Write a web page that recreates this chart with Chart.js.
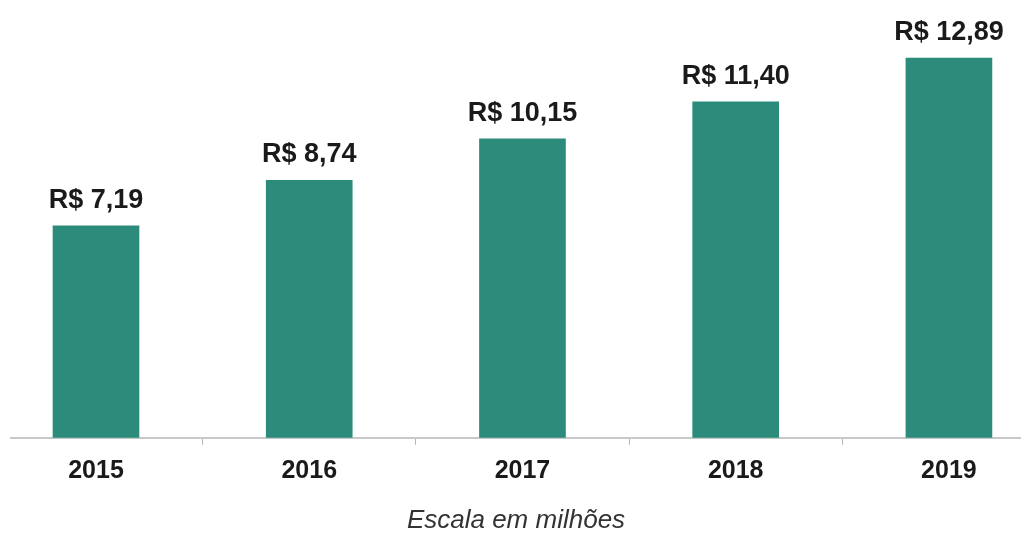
<!DOCTYPE html>
<html>
<head>
<meta charset="utf-8">
<script src="https://cdn.jsdelivr.net/npm/chart.js@4/dist/chart.umd.min.js"></script>
<style>
  html, body { margin: 0; padding: 0; background: #fff; }
  #wrap { position: relative; width: 1021px; height: 536px; }
</style>
</head>
<body>
<div id="wrap"><canvas id="grafico"></canvas></div>
<script>
// Dados
const anos = ['2015', '2016', '2017', '2018', '2019'];
const valores = [7.19, 8.74, 10.15, 11.40, 12.89];
const tituloEixo = 'Escala em milhões';

const corBarra = '#2d8b7b';

function formatReal(v) {
  return 'R$ ' + v.toFixed(2).replace('.', ',');
}

// Rótulos acima das barras
const rotulosPlugin = {
  id: 'rotulos',
  afterDatasetsDraw(chart) {
    const ctx = chart.ctx;
    const meta = chart.getDatasetMeta(0);
    ctx.save();
    ctx.font = "bold 27px 'Liberation Sans', Arial, sans-serif";
    ctx.fillStyle = '#1a1a1a';
    ctx.textAlign = 'center';
    ctx.textBaseline = 'alphabetic';
    meta.data.forEach((bar, i) => {
      ctx.fillText(formatReal(valores[i]), bar.x, bar.y - 18);
    });
    ctx.restore();
  },
};

const ctx = document.getElementById('grafico').getContext('2d');
new Chart(ctx, {
  type: 'bar',
  data: {
    datasets: [{
      data: anos.map((a, i) => ({ x: i, y: valores[i] })),
      backgroundColor: corBarra,
      borderWidth: 0,
      barThickness: 86,
    }],
  },
  options: {
    responsive: true,
    maintainAspectRatio: false,
    animation: false,
    layout: {
      padding: { top: 20, left: 11, right: 0, bottom: 0 },
    },
    plugins: {
      legend: { display: false },
      tooltip: { enabled: false },
    },
    scales: {
      x: {
        type: 'linear',
        offset: false,
        min: -0.3986,
        max: 4.338,
        afterBuildTicks: (scale) => {
          const t = [];
          for (let v = 0; v <= 4; v += 0.5) t.push({ value: v });
          scale.ticks = t;
        },
        grid: {
          offset: false,
          drawOnChartArea: false,
          drawTicks: true,
          tickLength: 7,
          color: (c) => (c.tick && c.tick.value % 1 !== 0 ? '#b5b5b5' : 'rgba(0,0,0,0)'),
          lineWidth: 1,
        },
        border: { display: true, color: '#c8c8c8', width: 2 },
        ticks: {
          autoSkip: false,
          maxRotation: 0,
          padding: 11,
          color: '#1a1a1a',
          font: { family: "'Liberation Sans', Arial, sans-serif", size: 25, weight: 'bold' },
          callback: (v) => (v % 1 === 0 ? anos[v] : ''),
        },
        title: {
          display: true,
          text: tituloEixo,
          color: '#333',
          padding: { top: 8, bottom: 0 },
          font: { family: "'Liberation Sans', Arial, sans-serif", size: 26, style: 'italic' },
        },
      },
      y: {
        display: false,
        min: 0,
        max: 14.18,
      },
    },
  },
  plugins: [rotulosPlugin],
});
</script>
</body>
</html>
